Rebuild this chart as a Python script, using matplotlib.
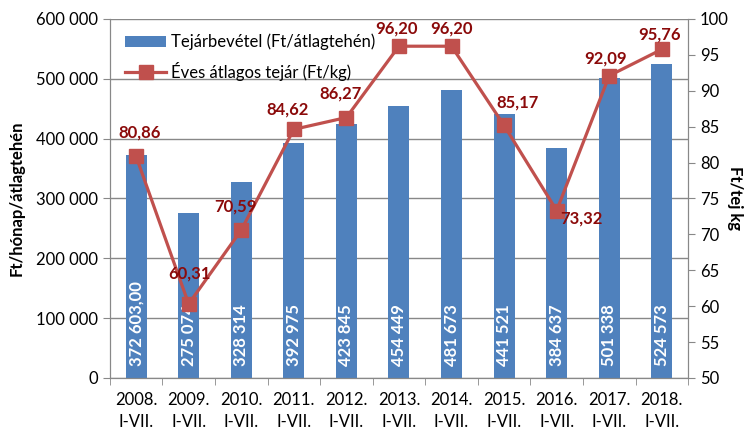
import matplotlib
matplotlib.use("Agg")
import matplotlib.pyplot as plt
from matplotlib.ticker import FuncFormatter

plt.rcParams['font.family'] = ['Lato', 'DejaVu Sans']

# adatok
evek = ["2008.", "2009.", "2010.", "2011.", "2012.", "2013.",
        "2014.", "2015.", "2016.", "2017.", "2018."]
bevetel = [372603, 275074, 328314, 392975, 423845, 454449,
           481673, 441521, 384637, 501338, 524573]
bevetel_cimke = ["372 603,00", "275 074", "328 314", "392 975", "423 845", "454 449",
                 "481 673", "441 521", "384 637", "501 338", "524 573"]
tejar = [80.86, 60.31, 70.59, 84.62, 86.27, 96.20, 96.20, 85.17, 73.32, 92.09, 95.76]
# cimke eltolasok (pixel)
eltolas = [(3, 24), (1, 30), (-6, 24), (-6, 20), (-6, 24), (-2, 18),
           (0, 18), (13, 23), (25, -8), (-4, 17), (-2, 15)]

kek = '#4F81BD'
piros = '#C0504D'
sotetpiros = '#8B0A0A'
szurke = '#888888'
fs = 12

fig = plt.figure(figsize=(7.52, 4.30), dpi=100)
ax = fig.add_axes([0.146, 0.121, 0.769, 0.835])
ax2 = ax.twinx()

x = list(range(len(evek)))
bars = ax.bar(x, bevetel, width=0.4, color=kek, zorder=2,
              label="Tejárbevétel (Ft/átlagtehén)")
for i, v in enumerate(bevetel):
    ax.annotate(bevetel_cimke[i], (i, 0), xytext=(0, 12), textcoords='offset pixels',
                rotation=90, ha='center', va='bottom', color='white',
                fontsize=fs, fontweight='bold', zorder=3)

ax.set_xlim(-0.5, len(evek) - 0.5)
ax.set_ylim(0, 600000)
ax.set_yticks(range(0, 600001, 100000))
ax.yaxis.set_major_formatter(FuncFormatter(lambda v, p: "0" if v == 0 else f"{int(v):,}".replace(",", " ")))
ax.grid(axis='y', color=szurke, linewidth=1, zorder=0)
ax.set_axisbelow(True)
ax.set_ylabel("Ft/hónap/átlagtehén", fontsize=fs, fontweight='bold', labelpad=8)

ax.set_xticks(x)
ax.set_xticklabels([e + "\nI-VII." for e in evek], fontsize=fs, linespacing=1.5)
ax.set_xticks([i + 0.5 for i in range(-1, len(evek))], minor=True)
ax.tick_params(axis='x', which='major', length=0, pad=10)
ax.tick_params(axis='x', which='minor', length=5, color=szurke)
ax.tick_params(axis='y', labelsize=fs, length=5, color=szurke)

ax2.plot(x, tejar, color=piros, linewidth=2.3, marker='s', markersize=9.5,
         zorder=4, label="Éves átlagos tejár (Ft/kg)")
for i, v in enumerate(tejar):
    ax2.annotate(f"{v:.2f}".replace(".", ","), (i, v), xytext=eltolas[i],
                 textcoords='offset pixels', ha='center', va='center',
                 color=sotetpiros, fontsize=fs, fontweight='bold', zorder=6)
ax2.set_ylim(50, 100)
ax2.set_yticks(range(50, 101, 5))
ax2.tick_params(axis='y', labelsize=fs, length=5, color=szurke)
ax2.set_ylabel("Ft/tej kg", fontsize=fs, fontweight='bold', rotation=270,
               va='center', ha='center')
ax2.yaxis.set_label_coords(1.082, 0.5)

for a in (ax, ax2):
    a.spines['top'].set_visible(False)
    for s in ('left', 'right', 'bottom'):
        a.spines[s].set_color(szurke)

h1, l1 = ax.get_legend_handles_labels()
h2, l2 = ax2.get_legend_handles_labels()
ax2.legend(h1 + h2, l1 + l2, loc='upper left', bbox_to_anchor=(0.0, 1.0),
           frameon=False, fontsize=fs, handlelength=2.5, handletextpad=0.3,
           labelspacing=0.7, borderaxespad=0.5)

fig.savefig("out.png", dpi=100)
